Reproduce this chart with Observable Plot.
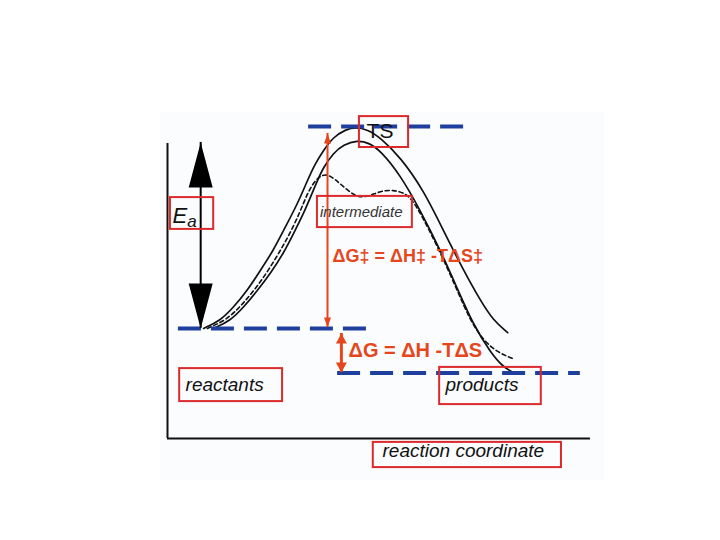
<!DOCTYPE html>
<html>
<head>
<meta charset="utf-8">
<script src="https://cdn.jsdelivr.net/npm/d3@7"></script>
<script src="https://cdn.jsdelivr.net/npm/@observablehq/plot@0.6"></script>
<style>
  html, body { margin: 0; padding: 0; background: #ffffff; }
</style>
</head>
<body>
<div id="chart"></div>
<script>
// ---- Data (reaction coordinate 0–100, free energy in arbitrary units) ----
const levels = [
  {name: "reactants", y: 36.7, x1: 2.6, x2: 47.6},
  {name: "products", y: 21.8, x1: 40.5, x2: 98.3},
  {name: "TS", y: 104, x1: 33.6, x2: 71.0}
];

const outerCurve = [
  [8.6,36.7],[12.6,39.3],[15.7,43.7],[19.0,49.3],[22.1,56.0],[25.2,62.7],[27.6,69.3],
  [31.0,78.3],[33.3,86.0],[35.2,91.7],[37.1,96.0],[39.5,100.5],[42.4,103.0],[44.8,103.8],
  [47.6,103.0],[50.7,100.3],[55.5,93.7],[61.0,82.7],[65.7,69.3],[70.5,56.0],[74.5,46.0],
  [77.6,39.3],[81.0,35.3]
];

const innerCurve = [
  [11.0,36.7],[15.0,39.3],[18.1,43.7],[21.4,49.3],[24.5,55.0],[27.6,61.7],[30.0,68.3],
  [32.4,75.0],[34.0,80.3],[35.7,86.0],[37.1,90.3],[39.5,95.2],[41.9,98.0],[45.2,99.4],
  [47.9,98.6],[50.7,96.0],[55.5,87.7],[60.2,76.0],[65.0,62.7],[69.0,50.0],[72.9,37.7],
  [76.9,28.7],[80.0,23.7],[82.4,22.0]
];

const intermediateCurve = [
  [9.5,36.7],[13.8,39.3],[17.4,44.0],[21.0,50.0],[24.0,56.0],[26.9,62.7],[29.3,68.7],
  [31.7,76.0],[33.3,81.7],[35.2,86.3],[37.6,88.6],[40.0,86.3],[42.4,83.3],[45.2,80.3],
  [47.9,80.7],[50.7,82.5],[53.8,82.9],[56.7,81.7],[58.3,79.3],[60.2,75.3],[65.0,62.0],
  [69.0,49.3],[72.1,39.3],[75.2,32.7],[78.6,28.7],[82.1,26.7]
];

const axisX = {y: 0, x1: 0, x2: 100.7};
const axisY = {x: 0, y1: 0, y2: 98.3};

const eaArrow = {x: 7.9, y1: 36.7, y2: 98.7};
const dGdaggerArrow = {x: 38.1, y1: 37.0, y2: 101.7};
const dGArrow = {x: 41.4, y1: 22.0, y2: 35.0};

const boxes = [
  {label: "Ea", x1: 0.7, x2: 11.0, y1: 69.7, y2: 80.3},
  {label: "TS", x1: 45.7, x2: 57.4, y1: 97.0, y2: 107.3},
  {label: "intermediate", x1: 35.7, x2: 58.3, y1: 70.3, y2: 80.7},
  {label: "reactants", x1: 2.9, x2: 27.4, y1: 12.3, y2: 23.3},
  {label: "products", x1: 64.8, x2: 89.0, y1: 11.3, y2: 23.7},
  {label: "reaction coordinate", x1: 49.0, x2: 93.8, y1: -9.7, y2: -1.3}
];

const italicLabels = [
  {text: "reactants", x: 4.3, y: 18.0, size: 19},
  {text: "products", x: 66.2, y: 17.7, size: 19},
  {text: "reaction coordinate", x: 51.2, y: -4.3, size: 19}
];

const eqLabels = [
  {text: "ΔG‡ = ΔH‡ -TΔS‡", x: 39.3, y: 60.7, size: 18},
  {text: "ΔG = ΔH -TΔS", x: 43.1, y: 29.3, size: 20}
];

const background = {x1: -1.7, x2: 104, y1: -14, y2: 108.7};

// ---- Styles ----
const BLUE = "#1f3f9e";
const ORANGE = "#e5461c";
const RED = "#dc2a2c";
const FONT = "Liberation Sans, Arial, sans-serif";

// custom arrowhead symbols (tip at origin, body below)
const bigHead = {draw(ctx) { ctx.moveTo(0, 0); ctx.lineTo(12, 45); ctx.lineTo(-12, 45); ctx.closePath(); }};
const smallHead = {draw(ctx) { ctx.moveTo(0, 0); ctx.lineTo(3.5, 10); ctx.lineTo(-3.5, 10); ctx.closePath(); }};
const midHead = {draw(ctx) { ctx.moveTo(0, 0); ctx.lineTo(5.5, 10); ctx.lineTo(-5.5, 10); ctx.closePath(); }};

const P = d => ({x: d[0], y: d[1]});

const chart = Plot.plot({
  width: 720,
  height: 540,
  marginLeft: 167,
  marginRight: 133,
  marginTop: 138,
  marginBottom: 102,
  x: {domain: [0, 100], axis: null},
  y: {domain: [0, 100], axis: null},
  style: {background: "#ffffff", overflow: "visible", fontFamily: FONT},
  marks: [
    Plot.rect([background], {x1: "x1", x2: "x2", y1: "y1", y2: "y2", fill: "#fbfcfe"}),
    // axes
    Plot.ruleY([axisX], {y: "y", x1: "x1", x2: "x2", stroke: "#111", strokeWidth: 2}),
    Plot.ruleX([axisY], {x: "x", y1: "y1", y2: "y2", stroke: "#111", strokeWidth: 2}),
    // energy curves
    Plot.line(outerCurve.map(P), {x: "x", y: "y", curve: "basis", stroke: "#111", strokeWidth: 1.7}),
    Plot.line(innerCurve.map(P), {x: "x", y: "y", curve: "basis", stroke: "#111", strokeWidth: 1.7}),
    Plot.line(intermediateCurve.map(P), {x: "x", y: "y", curve: "basis", stroke: "#111", strokeWidth: 1.6, strokeDasharray: "4,3"}),
    // dashed energy levels
    Plot.ruleY(levels, {y: "y", x1: "x1", x2: "x2", stroke: BLUE, strokeWidth: 4, strokeDasharray: "23,10"}),
    // Ea arrow
    Plot.ruleX([eaArrow], {x: "x", y1: "y1", y2: "y2", stroke: "#000", strokeWidth: 2}),
    Plot.dot([{x: eaArrow.x, y: eaArrow.y2, r: 0}, {x: eaArrow.x, y: eaArrow.y1, r: 180}],
      {x: "x", y: "y", rotate: "r", symbol: bigHead, fill: "#000", stroke: "none"}),
    // ΔG‡ arrow
    Plot.ruleX([dGdaggerArrow], {x: "x", y1: "y1", y2: "y2", stroke: ORANGE, strokeWidth: 2}),
    Plot.dot([{x: dGdaggerArrow.x, y: dGdaggerArrow.y2, r: 0}, {x: dGdaggerArrow.x, y: dGdaggerArrow.y1, r: 180}],
      {x: "x", y: "y", rotate: "r", symbol: smallHead, fill: ORANGE, stroke: "none"}),
    // ΔG arrow
    Plot.ruleX([dGArrow], {x: "x", y1: "y1", y2: "y2", stroke: ORANGE, strokeWidth: 3}),
    Plot.dot([{x: dGArrow.x, y: dGArrow.y2, r: 0}, {x: dGArrow.x, y: dGArrow.y1, r: 180}],
      {x: "x", y: "y", rotate: "r", symbol: midHead, fill: ORANGE, stroke: "none"}),
    // red label boxes
    Plot.rect(boxes, {x1: "x1", x2: "x2", y1: "y1", y2: "y2", fill: "none", stroke: RED, strokeWidth: 2}),
    // labels
    Plot.text([{t: "E", x: 1.2, y: 74.3}], {x: "x", y: "y", text: "t", textAnchor: "start", fontSize: 22, fontStyle: "italic", fill: "#111"}),
    Plot.text([{t: "a", x: 4.7, y: 72.2}], {x: "x", y: "y", text: "t", textAnchor: "start", fontSize: 17, fontStyle: "italic", fill: "#111"}),
    Plot.text([{t: "TS", x: 47.4, y: 102.4}], {x: "x", y: "y", text: "t", textAnchor: "start", fontSize: 21, fill: "#111"}),
    Plot.text([{t: "intermediate", x: 36.3, y: 75.6}], {x: "x", y: "y", text: "t", textAnchor: "start", fontSize: 15, fontStyle: "italic", fill: "#333"}),
    Plot.text(italicLabels, {x: "x", y: "y", text: "text", textAnchor: "start", fontSize: d => d.size, fontStyle: "italic", fill: "#111"}),
    Plot.text(eqLabels, {x: "x", y: "y", text: "text", textAnchor: "start", fontSize: d => d.size, fontWeight: "bold", fill: ORANGE})
  ]
});

document.getElementById("chart").appendChild(chart);
</script>
</body>
</html>
